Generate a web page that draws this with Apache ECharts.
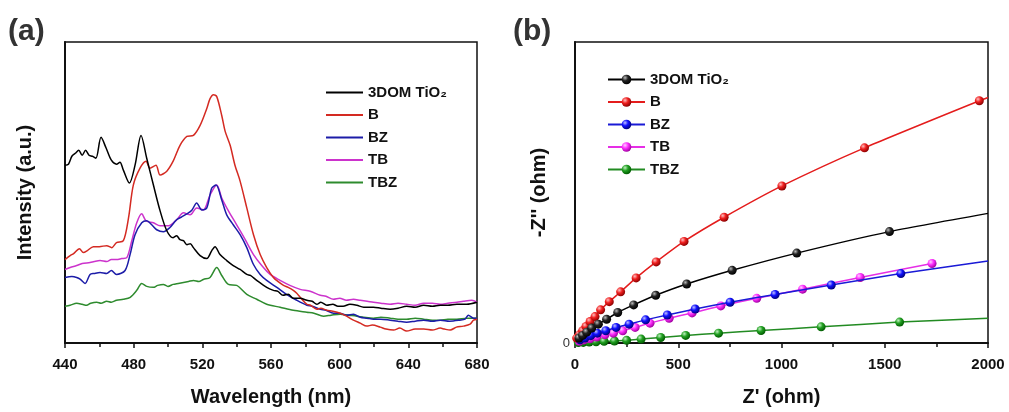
<!DOCTYPE html>
<html>
<head>
<meta charset="utf-8">
<script src="https://cdn.jsdelivr.net/npm/echarts@6/dist/echarts.min.js"></script>
<style>html,body{margin:0;padding:0;background:#fff;}#c{width:1009px;height:412px;}</style>
</head>
<body>
<div id="c"></div>
<script>
// ---------- Panel (a): PL spectra ----------
const names = ['3DOM TiO\u2082', 'B', 'BZ', 'TB', 'TBZ'];
const xTicksA = [440, 480, 520, 560, 600, 640, 680];

const tioWl = [440,442,444,446,448,450,452,454,456,458,461,464,467,470,472,474,477.5,480.8,484.3,487.6,491.5,495.4,499.3,503,505,507,509,511,513,514.8,518.7,522.6,525.5,527.4,530.3,534.2,538,542,545.9,548,551.7,557.5,561.4,564,567,570,573,577,580.9,584,586.7,589,592.5,596,599,602,606,610,614,619.7,624,629.4,634,639,644,648.9,654,658.6,663,668.3,674,680];
const tioI  = [179,180,188,191,194,189,194,189,188,186,207,196,184,180,182,174,161,179,209,186,159,133,113,106,108,104,103,99,100,96,88,85,93,97,89,83,78,74,69,68,63,56,53,52,48,49,45,45,43,42,39,41,38,39,37,37,39,38,36,36,35,34,35,37,36,38,37,38,38,39,39,41];

const bWl = [440,443,445,448.4,450.7,453,456.5,460,464.3,467.2,470,474,477,479.8,483.7,487.2,489.5,493,495.4,499.3,503,507,511,514.8,518.7,522.6,524.5,526.5,528.4,531.3,533.3,536.2,539,542,545.9,549.8,553.7,557.5,561.4,564,567.3,570,573,575,577,580.9,583,586.7,589,592.5,596,600.3,604,608,612,615.8,619,623.6,627,631.4,635,639,644,649,654,658.6,661,664.4,668,672,676,678,680];
const bI  = [84,88,90,95,91,93,97,97,98,96,101,103,126,159,176,183,176,179,169,173,183,199,208,209,219,236,246,250,248,229,213,199,179,163,136,109,89,76,66,62,58,56,53,50,46,39,38,34,35,33,32,30,27,23,20,17,18,16,14,13,15,12,14,14,13,15,14,13,16,17,19,23,24];

const bzWl = [440,444,446.8,449,451.7,454.6,457,460.4,464.3,467,470,475,477.9,480.8,484.7,487.6,490.5,493.4,497.3,501,505,508,511,514,516.7,519.7,522.6,525.5,528,531.3,534.2,538,542,545.9,549.8,553.7,557.5,563.4,569,575,580.9,584,588.7,592,596.4,600,604,608,612,616,619.7,624,629.4,634,639,644,648.9,654,658.6,664,670,673,675,678,680];
const bzI  = [66,67,66,64,60,69,70,71,70,73,69,73,89,109,121,123,119,114,112,116,124,127,130,134,141,134,136,156,159,144,129,119,109,96,79,69,63,56,49,43,38,37,34,33,30,30,28,29,26,25,24,24,23,22,21,22,23,22,23,22,23,24,28,25,25];

const tbWl = [440,443,446.8,450,454.6,457,460.4,464.3,467,470,473,476,478.9,481.8,484.7,487.2,491.5,495.4,500.3,505,509,512.9,516.7,520.6,524.5,528.4,531.3,535.2,540,545,549.8,554.6,559.5,565.3,571,577,582.8,588.7,592,596.4,600,604,608,612,616,619.7,624,629.4,634,639,644,648.9,654,658.6,663,668.3,672,677,680];
const tbI  = [74,76,78,80,81,82,83,82,84,84,85,86,103,121,130,123,121,118,118,124,131,129,136,134,149,159,146,133,119,104,89,78,69,63,58,54,52,48,47,44,45,43,44,43,42,41,40,39,40,39,38,40,40,39,40,41,42,43,41];

const tbzWl = [440,443,446.8,450,452.6,455,458.5,461,464.3,467,470,474,478,481.8,484.7,487.6,491.5,494,497.3,500,503,506,509,512,514.8,518,520.6,524.5,528.4,531.3,535.2,540,545.9,551.7,557.5,565.3,573,580.9,585,590.6,595,600.3,605,610,614,619.7,624,629.4,634,639,644,649,654,658.6,663,668.3,674,680];
const tbzI  = [37,38,40,39,38,40,41,40,42,41,43,44,46,53,60,57,56,58,59,57,59,60,61,62,63,62,64,66,76,68,59,58,49,44,39,36,33,31,30,27,28,29,28,27,26,25,26,25,24,24,25,24,23,23,24,24,25,25];

// ---------- Panel (b): Nyquist plots ----------
const xTicksB = [0, 500, 1000, 1500, 2000];

const nyTioX = [19,37,57,81,113,153,207,284,391,541,761,1074,1523];
const nyTioY = [24,37,53,73,92,116,149,186,233,288,355,439,544];
const nyTioFitEnd = [2000, 633];

const nyBX = [8,21,37,53,73,97,124,166,221,296,393,528,722,1002,1402,1958];
const nyBY = [24,40,60,81,105,129,162,202,250,318,396,496,614,767,953,1183];
const nyBFitEnd = [2000, 1199];

const nyBzX = [24,48,76,108,149,199,262,342,447,582,751,969,1241,1578];
const nyBzY = [16,24,36,48,60,76,92,113,137,166,199,237,283,339];
const nyBzFitEnd = [2000, 401];

const nyTbX = [21,44,73,105,145,186,231,291,363,456,567,706,880,1102,1381,1729];
const nyTbY = [8,15,21,29,40,48,60,76,97,121,147,181,218,263,320,388];

const nyTbzX = [16,40,69,102,141,191,250,320,415,536,695,901,1192,1572];
const nyTbzY = [2,3,5,6,8,10,13,19,27,37,48,61,79,102];
const nyTbzFitEnd = [2000, 121];

const lineColorsA = ['#000000', '#d42a22', '#1c1ca8', '#cc33cc', '#2e8b2e'];
const lineColorsB = ['#000000', '#e41c1c', '#1a1ad6', '#e62ee6', '#228b22'];
const sphere = [
  ['#bbbbbb', '#222222', '#000000'],
  ['#ffc0c0', '#f02020', '#8a0000'],
  ['#c0c0ff', '#1010ff', '#00007a'],
  ['#ffd0ff', '#ff30ff', '#a000a0'],
  ['#c0f0c0', '#22a022', '#005a00']
];

function zip(xs, ys) { return xs.map((x, i) => [x, ys[i]]); }
function withEnd(pts, end) {
  const d = pts.slice();
  if (end) d.push({ value: end, symbol: 'none' });
  return d;
}
function grad(c) {
  return { type: 'radial', x: 0.35, y: 0.32, r: 0.7,
    colorStops: [{ offset: 0, color: c[0] }, { offset: 0.45, color: c[1] }, { offset: 1, color: c[2] }] };
}

const FONT = '"Liberation Sans", Arial, "DejaVu Sans", sans-serif';
const dataA = [zip(tioWl, tioI), zip(bWl, bI), zip(bzWl, bzI), zip(tbWl, tbI), zip(tbzWl, tbzI)];
const dataB = [
  withEnd(zip(nyTioX, nyTioY), nyTioFitEnd),
  withEnd(zip(nyBX, nyBY), nyBFitEnd),
  withEnd(zip(nyBzX, nyBzY), nyBzFitEnd),
  withEnd(zip(nyTbX, nyTbY), null),
  withEnd(zip(nyTbzX, nyTbzY), nyTbzFitEnd)
];

const series = [];
names.forEach((n, i) => {
  series.push({
    name: 'a|' + n, type: 'line', xAxisIndex: 0, yAxisIndex: 0,
    data: dataA[i], showSymbol: false, symbol: 'none', smooth: 0.3,
    lineStyle: { color: lineColorsA[i], width: 1.5 }, itemStyle: { color: lineColorsA[i] },
    z: 10 - i, animation: false
  });
});
names.forEach((n, i) => {
  series.push({
    name: 'b|' + n, type: 'line', xAxisIndex: 1, yAxisIndex: 1,
    data: dataB[i], symbol: 'circle', symbolSize: 9, showAllSymbol: true, smooth: 0.2,
    lineStyle: { color: lineColorsB[i], width: 1.5 },
    itemStyle: { color: grad(sphere[i]) },
    z: 10 - i, animation: false
  });
});

const axisLabelStyle = { fontFamily: FONT, fontWeight: 'bold', fontSize: 15, color: '#111' };
const nameStyle = { fontFamily: FONT, fontWeight: 'bold', fontSize: 20, color: '#111' };
const legendText = { fontFamily: FONT, fontWeight: 'bold', fontSize: 15, color: '#111' };

const option = {
  backgroundColor: '#ffffff',
  animation: false,
  grid: [
    { left: 65, right: 532, top: 42, bottom: 67, show: true, borderColor: '#111', borderWidth: 1.5, containLabel: false },
    { left: 575, right: 21, top: 42, bottom: 67, show: true, borderColor: '#111', borderWidth: 1.5, containLabel: false }
  ],
  xAxis: [
    { type: 'value', gridIndex: 0, min: 440, max: 680, interval: 40,
      name: 'Wavelength (nm)', nameLocation: 'middle', nameGap: 44, nameTextStyle: nameStyle,
      axisLine: { lineStyle: { color: '#111', width: 2 } },
      axisTick: { show: true, inside: false, length: 5, lineStyle: { color: '#111', width: 1.5 } },
      minorTick: { show: true, splitNumber: 2, length: 4, lineStyle: { color: '#111', width: 1.5 } },
      axisLabel: Object.assign({ margin: 14, formatter: v => xTicksA.includes(v) ? String(v) : '' }, axisLabelStyle),
      splitLine: { show: false } },
    { type: 'value', gridIndex: 1, min: 0, max: 2000, interval: 500,
      name: "Z' (ohm)", nameLocation: 'middle', nameGap: 44, nameTextStyle: nameStyle,
      axisLine: { lineStyle: { color: '#111', width: 2 } },
      axisTick: { show: true, inside: false, length: 5, lineStyle: { color: '#111', width: 1.5 } },
      minorTick: { show: true, splitNumber: 2, length: 4, lineStyle: { color: '#111', width: 1.5 } },
      axisLabel: Object.assign({ margin: 14, formatter: v => xTicksB.includes(v) ? String(v) : '' }, axisLabelStyle),
      splitLine: { show: false } }
  ],
  yAxis: [
    { type: 'value', gridIndex: 0, min: 0, max: 303,
      name: 'Intensity (a.u.)', nameLocation: 'middle', nameGap: 30, nameTextStyle: nameStyle,
      axisLine: { show: true, lineStyle: { color: '#111', width: 2 } },
      axisTick: { show: false }, axisLabel: { show: false }, splitLine: { show: false } },
    { type: 'value', gridIndex: 1, min: 0, max: 1470, interval: 1470,
      name: '-Z\'\' (ohm)', nameLocation: 'middle', nameGap: 26, nameTextStyle: nameStyle,
      axisLine: { show: true, lineStyle: { color: '#111', width: 2 } },
      axisTick: { show: false },
      axisLabel: { show: true, margin: 5, fontFamily: FONT, fontSize: 13, color: '#333', formatter: v => v === 0 ? '0' : '' },
      splitLine: { show: false } }
  ],
  legend: [
    { orient: 'vertical', left: 320, top: 80, itemWidth: 37, itemHeight: 14, itemGap: 7.5,
      data: names.map(n => 'a|' + n), formatter: s => s.split('|')[1], textStyle: legendText,
      itemStyle: { opacity: 0 }, selectedMode: false },
    { orient: 'vertical', left: 602, top: 67, itemWidth: 37, itemHeight: 12, itemGap: 7.5,
      data: names.map(n => 'b|' + n), formatter: s => s.split('|')[1], textStyle: legendText,
      selectedMode: false }
  ],
  graphic: [
    { type: 'text', left: 8, top: 17, style: { text: '(a)', fontFamily: FONT, fontWeight: 'bold', fontSize: 30, fill: '#333' } },
    { type: 'text', left: 513, top: 17, style: { text: '(b)', fontFamily: FONT, fontWeight: 'bold', fontSize: 30, fill: '#333' } }
  ],
  series: series
};

const chart = echarts.init(document.getElementById('c'), null, { renderer: 'canvas' });
chart.setOption(option);
</script>
</body>
</html>
